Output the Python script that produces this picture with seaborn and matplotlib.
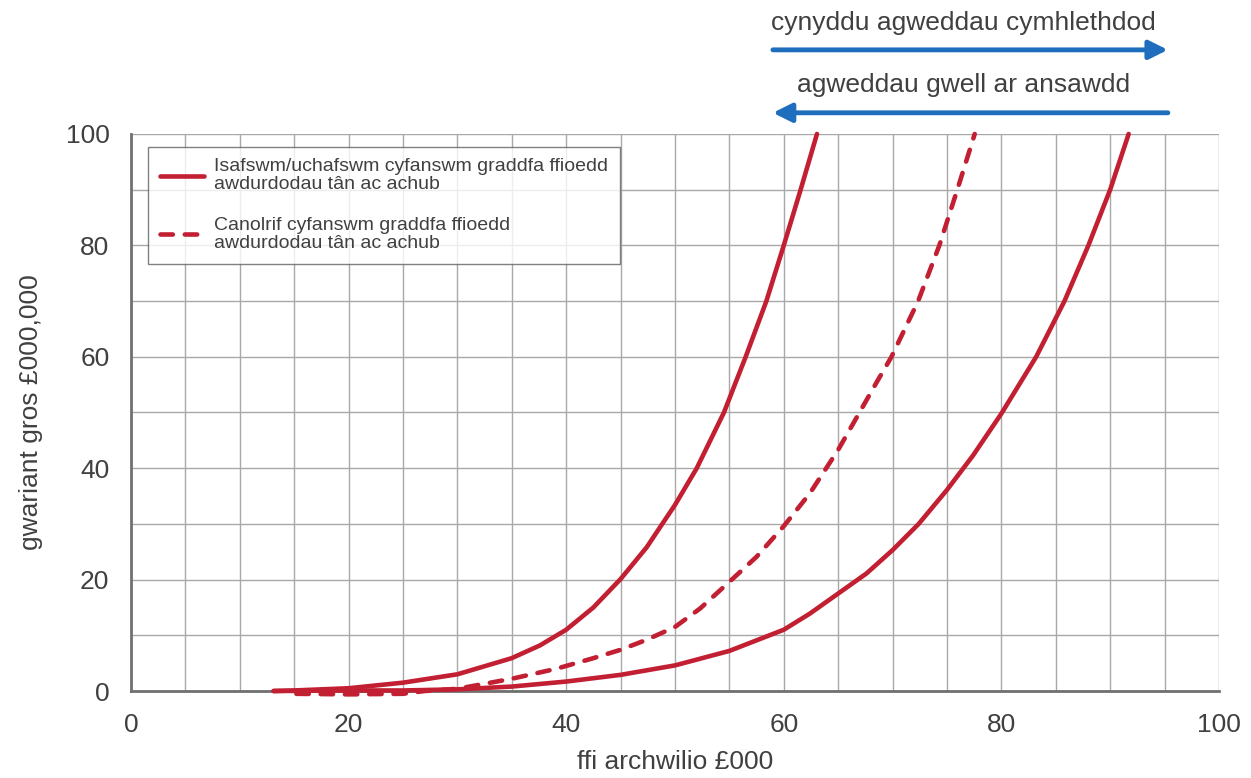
import matplotlib
matplotlib.use("Agg")
import matplotlib.pyplot as plt
import seaborn as sns
import pandas as pd

sns.set_style("white")
plt.rcParams["font.family"] = ["Liberation Sans", "DejaVu Sans"]

# curves (fee £000 -> gross spend £000,000)
fee_low = [13.1, 15, 20, 25, 30, 35, 37.6, 40, 42.5, 45, 47.4, 48.9, 50, 52.0, 54.5, 56.5, 58.4, 60.0, 61.55, 63.05]
spend_low = [0, 0.1, 0.5, 1.5, 3.0, 5.9, 8.2, 11.0, 15.0, 20.1, 25.8, 30.2, 33.4, 40, 50, 60, 70, 80, 90, 100]

fee_mid = [15.2, 20, 25, 27, 30, 35, 39.1, 42.5, 45, 47.4, 50, 52.3, 55, 57.5, 60, 62.4, 65,
           66.9, 68.5, 69.9, 72.35, 74.3, 75.95, 77.55]
spend_mid = [-0.5, -0.6, -0.5, 0, 0.4, 2.2, 4.0, 5.9, 7.4, 9.2, 11.5, 14.8, 19.6, 24.1, 29.6, 35.5, 43.3,
             49.8, 55.3, 60, 70, 80, 90, 100]

fee_high = [13.1, 20, 25, 30, 35, 40, 45, 50, 55, 60, 62.4, 65, 67.6, 70, 72.4, 75, 77.4, 80, 83.2,
            85.8, 88.0, 90.0, 91.7]
spend_high = [0, 0.1, 0.1, 0.3, 0.8, 1.7, 2.9, 4.6, 7.2, 11.0, 13.9, 17.5, 21.1, 25.3, 30.0, 36.1, 42.3,
              49.8, 60, 70, 80, 90, 100]

label_solid = "Isafswm/uchafswm cyfanswm graddfa ffioedd\nawdurdodau tân ac achub"
label_dash = "Canolrif cyfanswm graddfa ffioedd\nawdurdodau tân ac achub"

red = "#C21F32"
blue = "#1F6EBE"
grey_txt = "#404040"

fig = plt.figure(figsize=(12.51, 7.78), dpi=100)
ax = fig.add_axes([0.1047, 0.1118, 0.8697, 0.716])

df_low = pd.DataFrame({"fee": fee_low, "spend": spend_low})
df_mid = pd.DataFrame({"fee": fee_mid, "spend": spend_mid})
df_high = pd.DataFrame({"fee": fee_high, "spend": spend_high})

sns.lineplot(data=df_low, x="fee", y="spend", ax=ax, color=red, lw=3.3, label=label_solid,
             solid_capstyle="round", solid_joinstyle="round", zorder=5)
sns.lineplot(data=df_high, x="fee", y="spend", ax=ax, color=red, lw=3.3,
             solid_capstyle="round", solid_joinstyle="round", zorder=5)
sns.lineplot(data=df_mid, x="fee", y="spend", ax=ax, color=red, lw=3.3, label=label_dash,
             zorder=5)
ax.lines[2].set_dashes([2.7, 2.6])
ax.lines[2].set_dash_capstyle("round")
for ln in ax.lines[:3]:
    ln.set_clip_on(False)

ax.set_xlim(0, 100)
ax.set_ylim(0, 100)
ax.set_xticks(range(0, 101, 20))
ax.set_xticks(range(0, 101, 5), minor=True)
ax.set_yticks(range(0, 101, 20))
ax.set_yticks(range(0, 101, 10), minor=True)
ax.grid(True, which="both", color="#a8a8a8", lw=1)
ax.set_axisbelow(True)

for s in ["top", "right"]:
    ax.spines[s].set_visible(False)
for s in ["left", "bottom"]:
    ax.spines[s].set_color("#707070")
    ax.spines[s].set_linewidth(2)

ax.tick_params(axis="both", which="major", labelsize=19, labelcolor=grey_txt,
               length=6, width=1, color="#707070", direction="out")
ax.tick_params(axis="both", which="minor", length=4, width=1, color="#707070")
ax.tick_params(axis="y", pad=9.5)
ax.tick_params(axis="x", pad=10)

ax.set_xlabel("ffi archwilio £000", fontsize=19, color=grey_txt, labelpad=9)
ax.set_ylabel("gwariant gros £000,000", fontsize=19, color=grey_txt, labelpad=16)

leg = ax.legend(loc="upper left", bbox_to_anchor=(0.0156, 0.977), borderaxespad=0,
                fontsize=14, frameon=True, fancybox=False, edgecolor="#606060",
                handlelength=2.3, handletextpad=0.5, labelspacing=1.2,
                borderpad=0.6)
leg.get_frame().set_linewidth(1)
leg.set_zorder(10)
for t in leg.get_texts():
    t.set_color(grey_txt)
    t.set_linespacing(1.08)

# arrows above the plot
ax.annotate("", xy=(95.3, 115.1), xytext=(59.0, 115.1), annotation_clip=False,
            arrowprops=dict(arrowstyle="-|>", color=blue, lw=3.5, mutation_scale=28,
                            shrinkA=0, shrinkB=0))
ax.annotate("", xy=(59.0, 103.8), xytext=(95.3, 103.8), annotation_clip=False,
            arrowprops=dict(arrowstyle="-|>", color=blue, lw=3.5, mutation_scale=28,
                            shrinkA=0, shrinkB=0))
ax.text(76.5, 120.0, "cynyddu agweddau cymhlethdod", ha="center", va="center",
        fontsize=19, color=grey_txt, clip_on=False)
ax.text(76.5, 108.8, "agweddau gwell ar ansawdd", ha="center", va="center",
        fontsize=19, color=grey_txt, clip_on=False)

fig.savefig("out.png", dpi=100)
